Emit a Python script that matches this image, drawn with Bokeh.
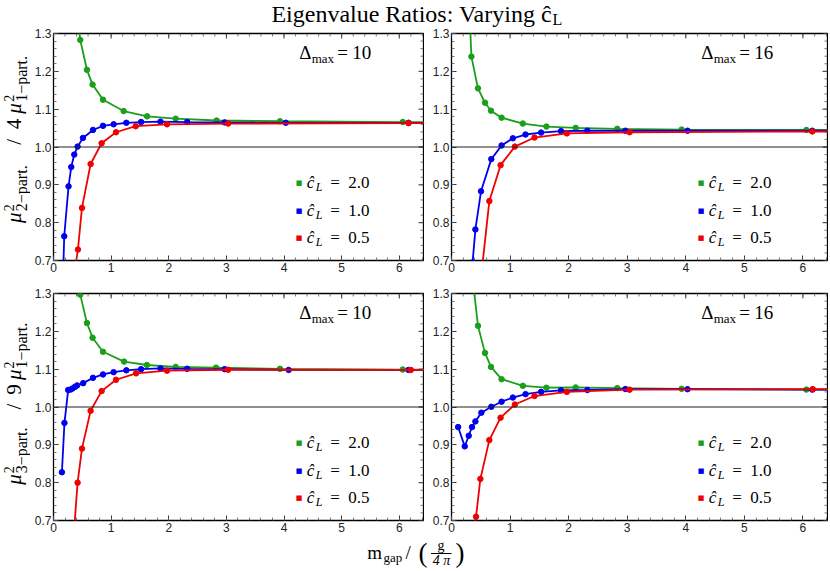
import math
from bokeh.plotting import figure
from bokeh.models import Range1d, FixedTicker, Span, Label, NumeralTickFormatter
from bokeh.layouts import column, row
from bokeh.embed import file_html
from bokeh.resources import INLINE
from bokeh.core.properties import value

# ------------------------------------------------------------------ data
CL_LABELS = ["2.0", "1.0", "0.5"]
DMAX_LABELS = ["10", "16"]
X_TICKS = [0, 1, 2, 3, 4, 5, 6]
Y_TICKS = [0.7, 0.8, 0.9, 1.0, 1.1, 1.2, 1.3]
REF_LEVEL = 1.0

# top-left : mu_2^2 / 4 mu_1^2 , Delta_max = 10
tl_green_x = [0.34, 0.464, 0.58, 0.678, 0.859, 1.217, 1.624, 2.12, 2.83, 3.93, 6.06, 8.0]
tl_green_y = [1.46, 1.283, 1.204, 1.165, 1.125, 1.095, 1.081, 1.075, 1.070, 1.068, 1.066, 1.066]
tl_blue_x = [0.146, 0.186, 0.261, 0.308, 0.36, 0.418, 0.511, 0.685, 0.859, 1.043, 1.264, 1.52, 1.856, 2.32, 2.97, 4.03, 6.16, 8.0]
tl_blue_y = [0.55, 0.764, 0.896, 0.947, 0.980, 1.001, 1.024, 1.045, 1.056, 1.060, 1.064, 1.066, 1.067, 1.066, 1.065, 1.064, 1.064, 1.064]
tl_red_x = [0.36, 0.424, 0.494, 0.644, 0.835, 1.085, 1.426, 1.97, 3.03, 6.16, 8.0]
tl_red_y = [0.665, 0.729, 0.839, 0.955, 1.010, 1.039, 1.055, 1.060, 1.062, 1.063, 1.063]

# top-right : mu_2^2 / 4 mu_1^2 , Delta_max = 16
tr_green_x = [0.25, 0.34, 0.452, 0.572, 0.674, 0.855, 1.218, 1.621, 2.12, 2.83, 3.93, 6.06, 8.0]
tr_green_y = [1.56, 1.239, 1.155, 1.117, 1.096, 1.0775, 1.062, 1.054, 1.0505, 1.048, 1.046, 1.045, 1.045]
tr_blue_x = [0.26, 0.31, 0.36, 0.408, 0.504, 0.68, 0.855, 1.048, 1.264, 1.53, 1.87, 2.32, 2.97, 4.03, 6.16, 8.0]
tr_blue_y = [0.40, 0.55, 0.695, 0.782, 0.883, 0.968, 1.004, 1.023, 1.033, 1.038, 1.042, 1.043, 1.043, 1.043, 1.043, 1.043]
tr_red_x = [0.42, 0.494, 0.646, 0.838, 1.082, 1.417, 1.97, 3.04, 6.16, 8.0]
tr_red_y = [0.45, 0.64, 0.857, 0.952, 1.001, 1.025, 1.036, 1.039, 1.041, 1.041]

# bottom-left : mu_3^2 / 9 mu_1^2 , Delta_max = 10
bl_green_x = [0.34, 0.464, 0.58, 0.678, 0.859, 1.224, 1.62, 2.12, 2.82, 3.93, 6.06, 8.0]
bl_green_y = [1.55, 1.297, 1.222, 1.183, 1.146, 1.120, 1.111, 1.106, 1.104, 1.101, 1.099, 1.099]
bl_blue_x = [0.146, 0.19, 0.255, 0.295, 0.33, 0.37, 0.41, 0.515, 0.685, 0.859, 1.043, 1.264, 1.52, 1.856, 2.32, 2.97, 4.08, 6.16, 8.0]
bl_blue_y = [0.8275, 0.958, 1.045, 1.046, 1.049, 1.053, 1.057, 1.063, 1.077, 1.086, 1.092, 1.097, 1.100, 1.102, 1.101, 1.100, 1.098, 1.098, 1.098]
bl_red_x = [0.36, 0.418, 0.494, 0.644, 0.835, 1.085, 1.433, 1.97, 3.03, 6.2, 8.0]
bl_red_y = [0.68, 0.80, 0.89, 0.990, 1.042, 1.072, 1.089, 1.096, 1.0985, 1.098, 1.098]

# bottom-right : mu_3^2 / 9 mu_1^2 , Delta_max = 16
br_green_x = [0.34, 0.452, 0.572, 0.674, 0.855, 1.218, 1.621, 2.12, 2.83, 3.93, 6.06, 8.0]
br_green_y = [1.368, 1.2146, 1.143, 1.106, 1.0736, 1.056, 1.051, 1.0517, 1.050, 1.048, 1.046, 1.046]
br_blue_x = [0.113, 0.226, 0.294, 0.35, 0.408, 0.51, 0.68, 0.855, 1.048, 1.264, 1.53, 1.87, 2.32, 2.97, 4.03, 6.16, 8.0]
br_blue_y = [0.947, 0.896, 0.924, 0.947, 0.962, 0.985, 1.0005, 1.014, 1.025, 1.034, 1.040, 1.044, 1.045, 1.0475, 1.047, 1.046, 1.046]
br_red_x = [0.36, 0.419, 0.493, 0.646, 0.838, 1.082, 1.417, 1.97, 3.04, 6.17, 8.0]
br_red_y = [0.55, 0.71, 0.81, 0.9125, 0.9717, 1.0065, 1.029, 1.040, 1.0457, 1.047, 1.047]

# ------------------------------------------------------------------ style
SERIF = "Liberation Serif"
SANS = "Liberation Sans"
GREEN, BLUE, RED = "#1a9f1a", "#0000f0", "#f00000"
COLORS = [GREEN, BLUE, RED]
X0, X1 = 0.0, 6.42
Y0, Y1 = 0.7, 1.3
X_MINOR = [round(0.2 * i, 2) for i in range(0, 33)]
Y_MINOR = [round(0.7 + 0.02 * i, 2) for i in range(0, 31)]
BASE_FIX = 0.34   # alphabetic-baseline correction (fraction of font size)


def fx(f):
    return X0 + (X1 - X0) * f


def fy(f):
    return Y1 - (Y1 - Y0) * f


def lab(p, x, y, text, size, xo=0, yo=0, style="normal", font=SERIF,
        align="left", baseline="alphabetic", color="black"):
    if baseline == "alphabetic":
        yo = yo + BASE_FIX * size
    p.add_layout(Label(x=x, y=y, x_units="data", y_units="data", text=text,
                       text_font=font, text_font_size=f"{size}px",
                       text_font_style=style, x_offset=xo, y_offset=yo,
                       text_align=align, text_baseline=baseline,
                       text_color=color))


def style_axis(ax, ticker, fmt):
    ax.ticker = ticker
    ax.formatter = fmt
    ax.axis_line_color = None
    ax.major_tick_in = 5
    ax.major_tick_out = 0
    ax.minor_tick_in = 3
    ax.minor_tick_out = 0
    ax.major_tick_line_color = "#333333"
    ax.minor_tick_line_color = "#555555"
    ax.major_tick_line_width = 1
    ax.minor_tick_line_width = 0.8
    ax.major_label_text_font = SANS
    ax.major_label_text_font_size = "12px"
    ax.major_label_text_color = "#222222"
    ax.major_label_standoff = 2


def mirror_ticks(p, fw, fh):
    # ticks on the top and right frame edges, at the same tick values
    dy_maj, dy_min = 5 * (Y1 - Y0) / fh, 3 * (Y1 - Y0) / fh
    dx_maj, dx_min = 5 * (X1 - X0) / fw, 3 * (X1 - X0) / fw
    xm = [t for t in X_MINOR if X0 <= t <= X1]
    p.segment(x0=X_TICKS, y0=[Y1] * len(X_TICKS), x1=X_TICKS,
              y1=[Y1 - dy_maj] * len(X_TICKS), line_color="#333333", line_width=1)
    p.segment(x0=xm, y0=[Y1] * len(xm), x1=xm, y1=[Y1 - dy_min] * len(xm),
              line_color="#555555", line_width=0.8)
    p.segment(x0=[X1] * len(Y_TICKS), y0=Y_TICKS, x1=[X1 - dx_maj] * len(Y_TICKS),
              y1=Y_TICKS, line_color="#333333", line_width=1)
    p.segment(x0=[X1] * len(Y_MINOR), y0=Y_MINOR, x1=[X1 - dx_min] * len(Y_MINOR),
              y1=Y_MINOR, line_color="#555555", line_width=0.8)


def panel(series, dmax, mbl, mbt, mbb, fw, fh, mbr=1):
    p = figure(width=mbl + fw + mbr, height=mbt + fh + mbb,
               x_range=Range1d(X0, X1), y_range=Range1d(Y0, Y1),
               output_backend="svg", toolbar_location=None, title=None,
               min_border_left=mbl, min_border_right=mbr,
               min_border_top=mbt, min_border_bottom=mbb)
    p.grid.visible = False
    p.outline_line_color = "black"
    p.outline_line_width = 1.3
    p.background_fill_color = "white"
    p.border_fill_color = "white"

    style_axis(p.xaxis[0], FixedTicker(ticks=X_TICKS, minor_ticks=X_MINOR),
               NumeralTickFormatter(format="0"))
    style_axis(p.yaxis[0], FixedTicker(ticks=Y_TICKS, minor_ticks=Y_MINOR),
               NumeralTickFormatter(format="0.0"))
    mirror_ticks(p, fw, fh)

    p.add_layout(Span(location=REF_LEVEL, dimension="width",
                      line_color="#222222", line_width=1.1))

    for xs, ys, col in series:
        p.line(xs, ys, line_color=col, line_width=1.8)
        p.scatter(xs, ys, size=5.5, fill_color=col, line_color=col)

    # Delta_max annotation
    dx, dy = fx(0.664), fy(0.111)
    lab(p, dx, dy, "Δ", 19)
    lab(p, dx, dy, "max", 13, xo=12.5, yo=-4)
    lab(p, dx, dy, "=", 19, xo=38)
    lab(p, dx, dy, dmax, 19, xo=53)

    # legend
    lx = fx(0.664)
    for yf, col, cl in zip([0.66, 0.782, 0.902], COLORS, CL_LABELS):
        ly = fy(yf)
        lab(p, lx, ly, "■", 7, font="DejaVu Sans", align="center",
            baseline="middle", color=col)
        lab(p, lx, ly, "ĉ", 17, xo=7.5, yo=-5, style="italic")
        lab(p, lx, ly, "L", 12, xo=16.5, yo=-8, style="italic")
        lab(p, lx, ly, "=", 17, xo=31, yo=-5)
        lab(p, lx, ly, cl, 17, xo=49, yo=-5)
    return p


def strip(w, h):
    s = figure(width=w, height=h, x_range=Range1d(0, w), y_range=Range1d(0, h),
               output_backend="svg", toolbar_location=None, title=None,
               x_axis_location=None, y_axis_location=None, min_border=0)
    s.grid.visible = False
    s.outline_line_color = None
    s.background_fill_color = "white"
    s.border_fill_color = "white"
    return s


def txt(s, x, y, t, size, style="normal", rotated=False, align="left"):
    # (x, y) is the wanted baseline point in strip pixels (y upward)
    if rotated:
        x = x - BASE_FIX * size
        angle = math.pi / 2
    else:
        y = y + BASE_FIX * size
        angle = 0.0
    s.text(x=[x], y=[y], text=[t], angle=angle, text_font=value(SERIF),
           text_font_size=value(f"{size}px"), text_font_style=style,
           text_align=align, text_baseline="alphabetic", text_color="black")


def ylabel_strip(h, start, num, factor):
    s = strip(30, h)
    S = start
    txt(s, 21, S, "μ", 21, "italic", True)
    txt(s, 13.5, S + 13, "2", 14, "normal", True)
    txt(s, 26, S + 13, num + "−part.", 16, "normal", True)
    txt(s, 21, S + 86, "/", 21, "normal", True)
    txt(s, 21, S + 103, factor, 21, "normal", True)
    txt(s, 21, S + 120, "μ", 21, "italic", True)
    txt(s, 13.5, S + 133, "2", 14, "normal", True)
    txt(s, 26, S + 133, "1−part.", 16, "normal", True)
    return s


# ------------------------------------------------------------------ panels
tl = panel([(tl_green_x, tl_green_y, GREEN), (tl_blue_x, tl_blue_y, BLUE), (tl_red_x, tl_red_y, RED)],
           DMAX_LABELS[0], mbl=23, mbt=5, mbb=17, fw=370, fh=227)
tr = panel([(tr_green_x, tr_green_y, GREEN), (tr_blue_x, tr_blue_y, BLUE), (tr_red_x, tr_red_y, RED)],
           DMAX_LABELS[1], mbl=27, mbt=3, mbb=16, fw=376, fh=230)
bl = panel([(bl_green_x, bl_green_y, GREEN), (bl_blue_x, bl_blue_y, BLUE), (bl_red_x, bl_red_y, RED)],
           DMAX_LABELS[0], mbl=23, mbt=16, mbb=17, fw=370, fh=227)
br = panel([(br_green_x, br_green_y, GREEN), (br_blue_x, br_blue_y, BLUE), (br_red_x, br_red_y, RED)],
           DMAX_LABELS[1], mbl=27, mbt=14, mbb=17, fw=376, fh=229)

# title strip (28 px high)
ts = strip(828, 28)
txt(ts, 551.5, 28 - 22, "Eigenvalue Ratios: Varying ĉ", 24, "normal", False, "right")
txt(ts, 552, 28 - 24.5, "L", 16, "normal", False, "left")

# y label strips
ys_top = ylabel_strip(249, 277 - 236, "2", "4")
ys_bot = ylabel_strip(260, 537 - 496, "3", "9")

# x label strip (screen y 537..570)
H = 33
xs = strip(828, H)
B = 570
txt(xs, 366.7, B - 558, "m", 19)
txt(xs, 383, B - 561.5, "gap", 13)
txt(xs, 405, B - 558, "/", 19)
txt(xs, 418, B - 561.5, "(", 27)
txt(xs, 440.5, B - 550, "g", 14, "normal", False, "center")
xs.segment(x0=[430.5], y0=[B - 553], x1=[451], y1=[B - 553], line_color="black", line_width=1)
txt(xs, 441, B - 564.5, "4 π", 14, "italic", False, "center")
txt(xs, 455, B - 561.5, ")", 27)

layout = column(ts, row(ys_top, tl, tr), row(ys_bot, bl, br), xs)

open("out.html", "w").write(file_html(layout, INLINE))
